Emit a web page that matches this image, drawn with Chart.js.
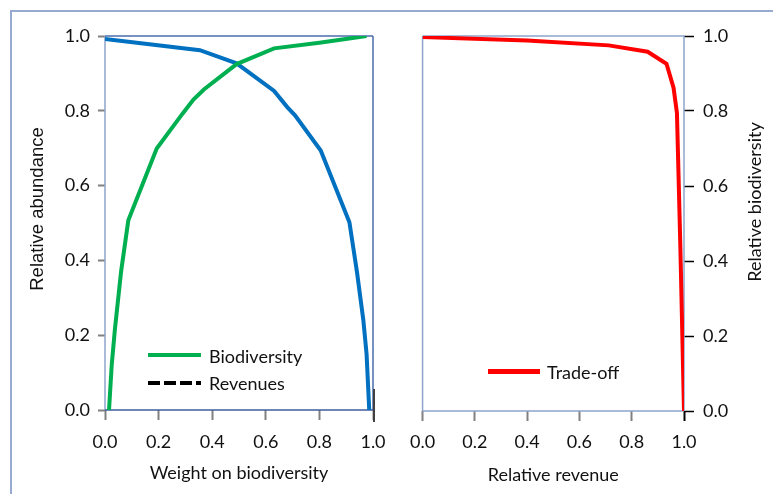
<!DOCTYPE html>
<html><head><meta charset="utf-8">
<script src="https://cdn.jsdelivr.net/npm/chart.js@4.4.1/dist/chart.umd.min.js"></script>
<style>
html,body{margin:0;padding:0;background:#fff;}
#wrap{position:relative;width:773px;height:494px;overflow:hidden;font-family:Lato,sans-serif;color:#111;}
#frame{position:absolute;left:10px;top:10px;width:800px;height:520px;border-top:2px solid #97aad0;border-left:2px solid #97aad0;}
.cv{position:absolute;top:0;}
.lt{position:absolute;font-size:18px;line-height:20px;white-space:nowrap;color:#111;}
.sw{position:absolute;}
</style></head><body>
<div id="wrap">
<div id="frame"></div>
<canvas id="c1" class="cv" style="left:0" width="400" height="494"></canvas>
<canvas id="c2" class="cv" style="left:400px" width="373" height="494"></canvas>
<div class="sw" style="left:148px;top:353px;width:53px;height:4px;background:#00b050"></div>
<div class="lt" style="left:209px;top:346px">Biodiversity</div>
<svg class="sw" style="left:148px;top:381px" width="53" height="4"><line x1="0" y1="2" x2="53" y2="2" stroke="#000" stroke-width="4" stroke-dasharray="12 4"/></svg>
<div class="lt" style="left:209px;top:373px">Revenues</div>
<div class="sw" style="left:488px;top:369px;width:52px;height:5px;background:#ff0000"></div>
<div class="lt" style="left:547px;top:362px">Trade-off</div>
</div>
<script>
// ---- data ----
const weightBio = [0.015, 0.025, 0.037, 0.06, 0.087, 0.193, 0.29, 0.33, 0.369, 0.491, 0.631, 0.8, 0.976];
const abundBio  = [0.0,   0.12,  0.216, 0.37, 0.507, 0.699, 0.793, 0.83, 0.857, 0.925, 0.967, 0.982, 1.0];
const weightRev = [0.0,   0.354, 0.491, 0.631, 0.68, 0.709, 0.805, 0.912, 0.94, 0.964, 0.976, 0.986];
const abundRev  = [0.992, 0.962, 0.927, 0.853, 0.81, 0.788, 0.694, 0.502, 0.37, 0.24,  0.15,  0.0];
const revenueTO = [0.0,   0.4,   0.712, 0.861, 0.933, 0.96,  0.973, 0.986, 1.0];
const biodivTO  = [0.997, 0.988, 0.975, 0.958, 0.926, 0.862, 0.795, 0.44,  0.0];
const tickValues = [0, 0.2, 0.4, 0.6, 0.8, 1.0];
const xTitleLeft = 'Weight on biodiversity';
const yTitleLeft = 'Relative abundance';
const xTitleRight = 'Relative revenue';
const yTitleRight = 'Relative biodiversity';

const pts = (xs, ys) => xs.map((x, i) => ({x, y: ys[i]}));
const FONT = {family: 'Lato', size: 18};
const TXT = '#111';

const boxPlugin = {
  id: 'box',
  beforeDatasetsDraw(chart, args, o) {
    const {left, right, top, bottom} = chart.chartArea;
    const ctx = chart.ctx;
    ctx.save();
    ctx.lineWidth = 1.5;
    const seg = (c, x1, y1, x2, y2) => { ctx.strokeStyle = c; ctx.beginPath(); ctx.moveTo(x1, y1); ctx.lineTo(x2, y2); ctx.stroke(); };
    seg(o.l, left, top, left, bottom);
    seg(o.t, left, top, right, top);
    seg(o.r, right, top, right, bottom);
    seg(o.b, left, bottom, right, bottom);
    if (o.stub) {
      const xs = chart.scales.x.getPixelForValue(1);
      ctx.strokeStyle = '#404040'; ctx.lineWidth = 2;
      ctx.beginPath(); ctx.moveTo(xs + 1, bottom - 21); ctx.lineTo(xs + 1, bottom + 12); ctx.stroke();
    }
    ctx.restore();
  },
  afterDraw(chart, args, o) {
    const ctx = chart.ctx;
    ctx.save();
    ctx.translate(o.tx, o.ty);
    ctx.rotate(-Math.PI / 2);
    ctx.font = o.tfont;
    ctx.fillStyle = TXT;
    ctx.textAlign = 'center';
    ctx.textBaseline = 'middle';
    ctx.fillText(o.title, 0, 0);
    ctx.restore();
  }
};

const fixedTicks = s => { s.ticks = tickValues.map(v => ({value: v})); };

new Chart(document.getElementById('c1'), {
  type: 'line',
  data: {datasets: [
    {label: 'Biodiversity', data: pts(weightBio, abundBio), borderColor: '#00b050', borderWidth: 4, pointRadius: 0, tension: 0},
    {label: 'Revenues', data: pts(weightRev, abundRev), borderColor: '#0070c0', borderWidth: 4, pointRadius: 0, tension: 0}
  ]},
  options: {
    responsive: false, animation: false,
    layout: {padding: {left: 0, right: 27, top: 36, bottom: 0}},
    plugins: {legend: {display: false}, tooltip: {enabled: false},
      box: {l: '#8ea4cd', t: '#4a6cab', r: '#4a6cab', b: '#3e5c9c', stub: true,
            title: yTitleLeft, tx: 38, ty: 209, tfont: '18.5px "Liberation Sans"'}},
    scales: {
      x: {type: 'linear', min: 0, max: 1, afterBuildTicks: fixedTicks,
          afterFit: s => { s.height = 84; },
          ticks: {callback: v => v.toFixed(1), font: FONT, color: TXT, padding: 11, maxRotation: 0, autoSkip: false},
          grid: {drawOnChartArea: false, drawTicks: true, tickLength: 10, tickColor: '#808080', tickWidth: 2},
          border: {display: false},
          title: {display: true, text: xTitleLeft, font: FONT, color: TXT, padding: {top: 0, bottom: 10}}},
      y: {type: 'linear', min: 0, max: 1, afterBuildTicks: fixedTicks,
          afterFit: s => { s.width = 105; },
          ticks: {callback: v => v.toFixed(1), font: FONT, color: TXT, padding: 8},
          grid: {drawOnChartArea: false, drawTicks: true, tickLength: 7, tickColor: '#808080', tickWidth: 2},
          border: {display: false}}
    }
  },
  plugins: [boxPlugin]
});

new Chart(document.getElementById('c2'), {
  type: 'line',
  data: {datasets: [
    {label: 'Trade-off', data: pts(revenueTO, biodivTO), borderColor: '#ff0000', borderWidth: 4, pointRadius: 0, tension: 0}
  ]},
  options: {
    responsive: false, animation: false,
    layout: {padding: {left: 16, right: 0, top: 36, bottom: 0}},
    plugins: {legend: {display: false}, tooltip: {enabled: false},
      box: {l: '#8ea4cd', t: '#8ea4cd', r: '#8ea4cd', b: '#8ea4cd', stub: false,
            title: yTitleRight, tx: 355, ty: 202, tfont: '18px Lato'}},
    scales: {
      x: {type: 'linear', min: 0, max: 1, afterBuildTicks: fixedTicks,
          afterFit: s => { s.height = 83; },
          ticks: {callback: v => v.toFixed(1), font: FONT, color: TXT, padding: 10, maxRotation: 0, autoSkip: false},
          grid: {drawOnChartArea: false, drawTicks: true, tickLength: 10, tickWidth: 2,
                 tickColor: c => (c.tick && c.tick.value === 1 ? '#000' : '#808080')},
          border: {display: false},
          title: {display: true, text: xTitleRight, font: FONT, color: TXT, padding: {top: 0, bottom: 8}}},
      y: {type: 'linear', position: 'right', min: 0, max: 1, afterBuildTicks: fixedTicks,
          afterFit: s => { s.width = 89; },
          ticks: {callback: v => v.toFixed(1), font: FONT, color: TXT, padding: 9},
          grid: {drawOnChartArea: false, drawTicks: true, tickLength: 10, tickColor: '#000', tickWidth: 1.5},
          border: {display: false}}
    }
  },
  plugins: [boxPlugin]
});
</script>
</body></html>
